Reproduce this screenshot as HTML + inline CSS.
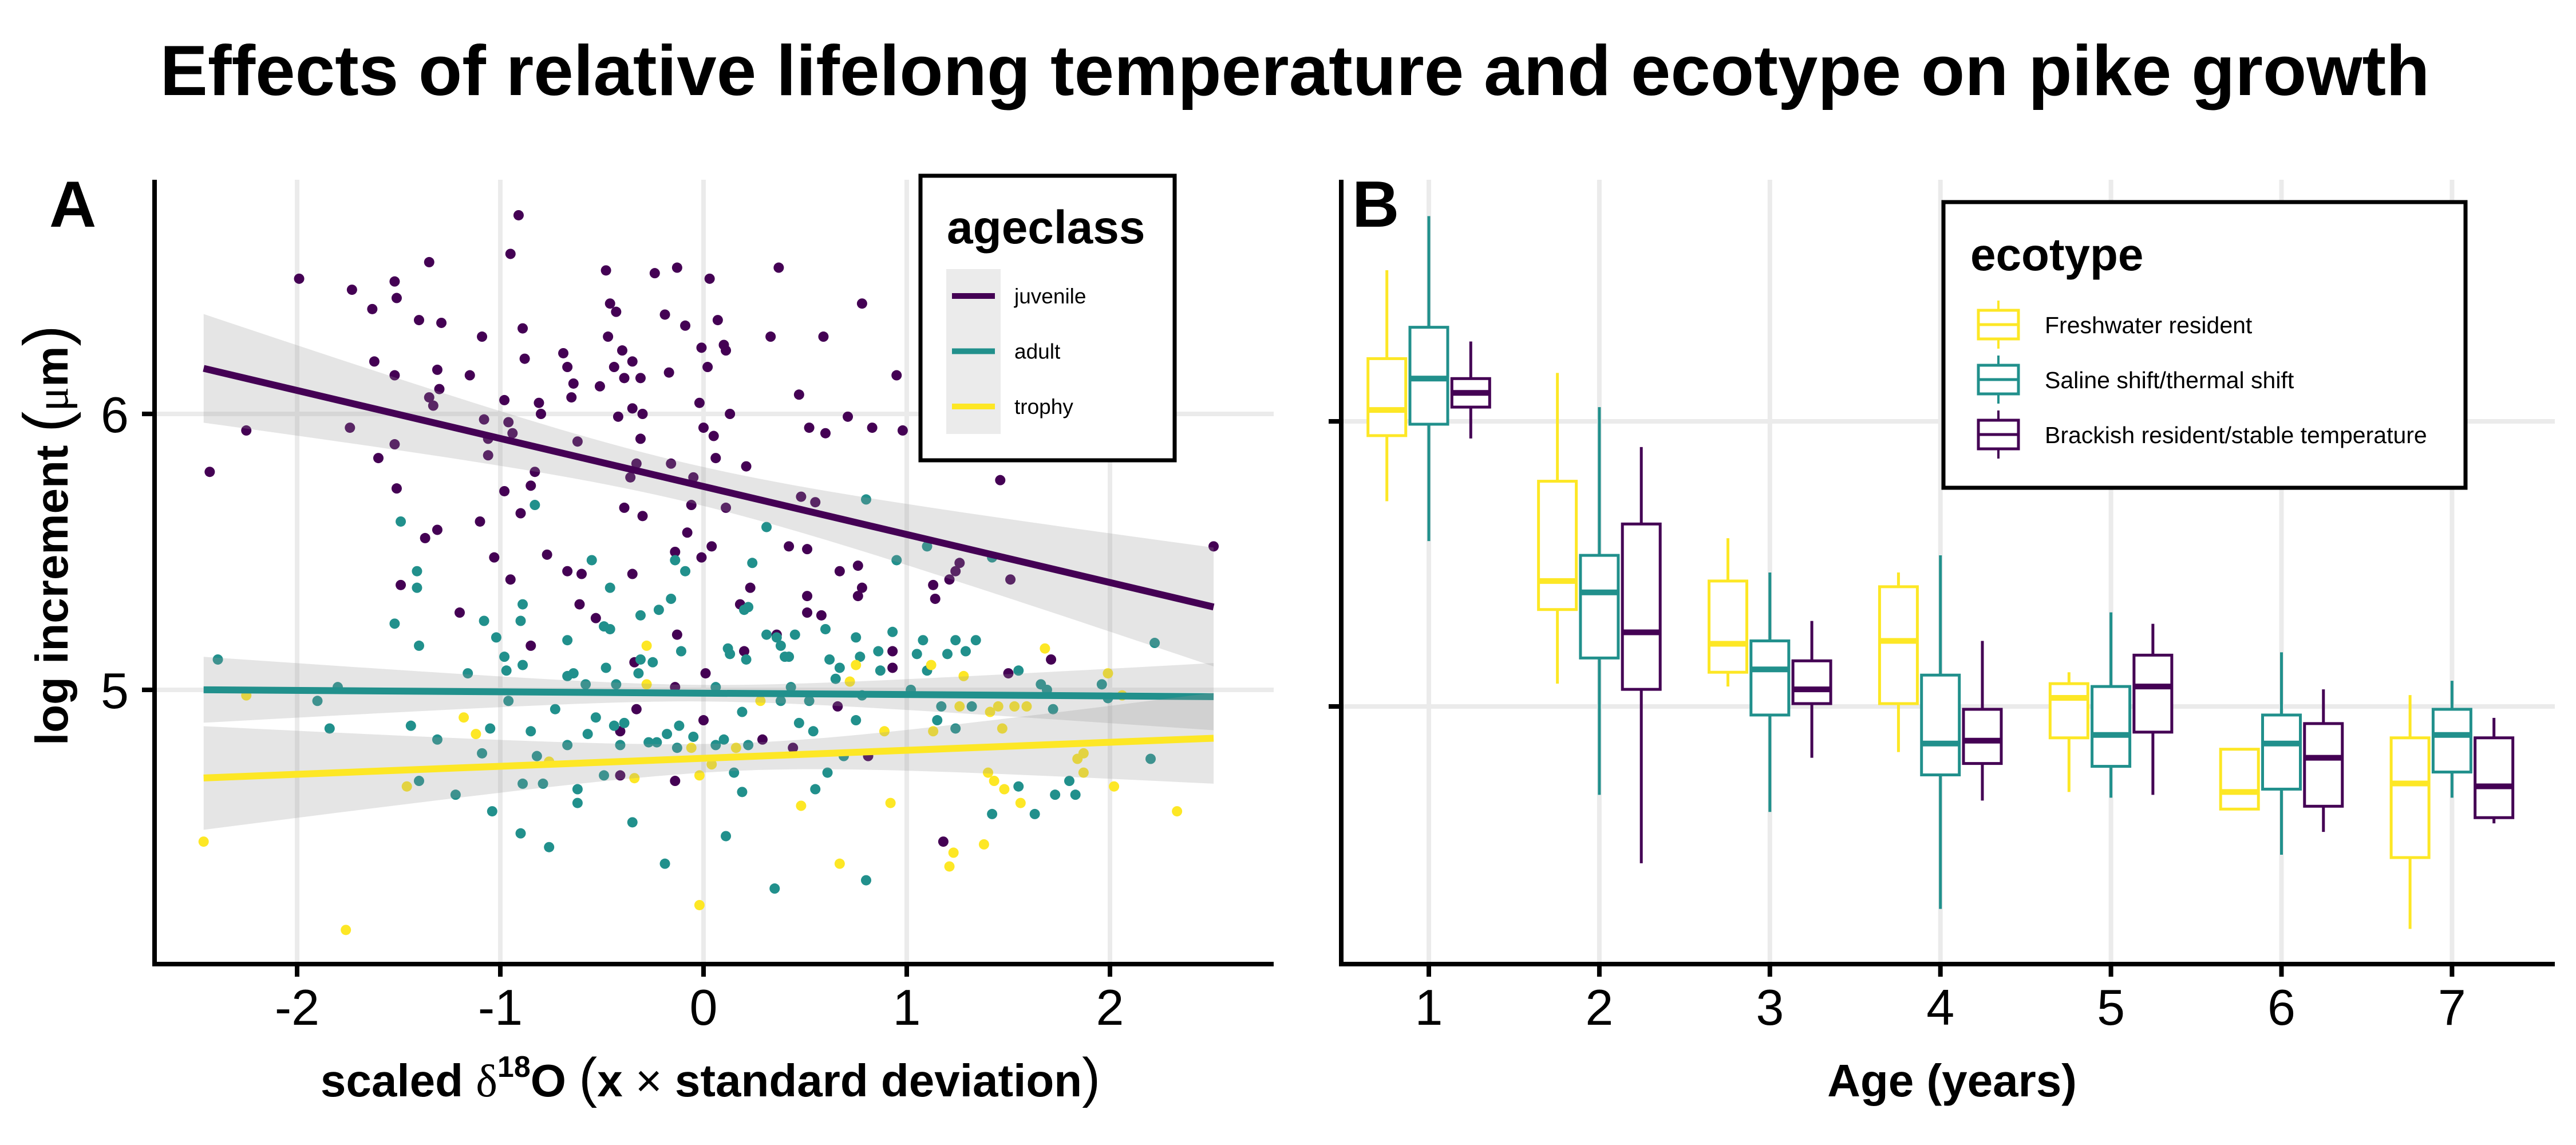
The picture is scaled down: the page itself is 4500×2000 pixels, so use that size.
<!DOCTYPE html>
<html><head><meta charset="utf-8"><style>
html,body{margin:0;padding:0;background:#fff}
svg{display:block;font-family:"Liberation Sans",Arial,sans-serif}
</style></head><body>
<svg id="fig" xmlns="http://www.w3.org/2000/svg" width="4500" height="2000" viewBox="0 0 4500 2000">
<rect width="4500" height="2000" fill="#fff"/>
<text x="2262" y="166" font-size="124" font-weight="bold" text-anchor="middle" textLength="3965" lengthAdjust="spacingAndGlyphs">Effects of relative lifelong temperature and ecotype on pike growth</text>
<g id="pa"></g>
<g id="pb"></g>
</svg>
<script>
// ---------- Panel A data ----------
const juvX=[-1.99,-1.73,-1.63,-1.52,-1.51,-1.35,-1.40,-1.29,-1.09,-1.62,-1.52,-1.31,-1.30,-1.15,-2.25,-2.43,-0.91,-0.95,-0.89,-0.88,-0.48,-0.24,-0.13,0.03,0.37,-0.46,-0.43,-0.19,-0.09,0.07,-0.47,-0.40,-0.35,-0.44,-0.39,-0.31,-0.69,-0.67,-0.64,-0.65,-0.51,-0.01,0.10,0.11,0.02,-0.17,0.33,0.59,0.78,0.95,0.47,0.71,0.83,0.98,0.52,0.60,-0.02,0.13,-0.35,-0.30,-0.42,-0.81,-0.80,-0.98,-0.31,0.00,0.05,0.06,0.21,1.46,2.51,-1.60,-1.51,-0.83,-0.85,-0.98,-0.90,-1.10,-1.37,-1.31,-0.39,-0.30,-0.06,-0.08,0.04,-0.14,-0.01,0.42,0.51,-1.03,-0.77,-0.67,-0.60,-0.35,-0.95,-1.49,-1.20,-0.61,-0.53,-0.13,-0.85,-0.34,0.18,0.23,0.51,0.51,0.58,0.67,0.76,0.78,0.76,1.13,1.14,0.93,0.93,1.71,1.50,0.01,0.00,-0.33,-0.41,0.66,1.18,0.20,0.36,-1.35,-1.33,-1.74,-1.52,-1.08,-0.96,-0.94,-1.06,-1.06,-0.62,-0.33,-0.36,-0.16,-0.05,0.11,0.48,0.55,1.24,1.21,1.26,1.51,-0.14,0.29,0.44,0.81,-0.41,-0.14];
const juvY=[6.49,6.45,6.38,6.48,6.42,6.55,6.34,6.33,6.28,6.19,6.14,6.16,6.09,6.14,5.94,5.79,6.72,6.58,6.31,6.20,6.52,6.51,6.53,6.49,6.53,6.40,6.37,6.36,6.32,6.34,6.28,6.23,6.19,6.17,6.13,6.13,6.22,6.17,6.11,6.06,6.10,6.24,6.25,6.23,6.17,6.15,6.28,6.28,6.40,6.14,6.07,5.99,5.95,5.94,5.95,5.93,6.04,6.00,6.02,6.00,5.99,6.04,6.00,6.05,5.91,5.95,5.92,5.84,5.81,5.76,5.52,5.84,5.73,5.79,5.74,5.72,5.64,5.61,5.55,5.58,5.66,5.63,5.67,5.57,5.52,5.50,5.48,5.52,5.51,5.48,5.49,5.43,5.42,5.42,5.40,5.38,5.28,5.31,5.26,5.20,5.16,5.10,5.31,5.37,5.34,5.28,5.27,5.43,5.45,5.37,5.34,5.38,5.33,5.14,5.08,5.11,5.06,5.06,4.89,4.93,4.85,4.94,4.45,5.14,5.20,6.06,6.03,5.95,5.89,5.98,5.97,5.93,5.91,5.85,5.90,5.82,5.77,5.82,5.77,5.66,5.70,5.68,5.43,5.40,5.46,5.40,5.01,4.82,4.79,4.76,4.69,4.67];
const adX=[-2.39,-1.90,-1.80,-1.84,-1.49,-1.41,-1.41,-1.52,-1.40,-1.44,-1.31,-1.40,-1.22,-1.16,-1.08,-1.02,-0.98,-0.97,-1.09,-1.05,-1.04,-0.96,-0.89,-0.90,-0.89,-0.83,-0.90,-0.76,-0.89,-0.79,-0.82,-0.85,-0.73,-0.67,-0.67,-0.64,-0.58,-0.55,-0.46,-0.49,-0.46,-0.48,-0.53,-0.57,-0.67,-0.62,-0.62,-0.49,-0.44,-0.39,-0.41,-0.43,-0.31,-0.31,-0.32,-0.25,-0.22,-0.16,-0.14,-0.09,-0.11,-0.35,-0.19,-0.27,-0.23,-0.18,-0.12,-0.13,-0.05,0.06,0.10,0.15,0.06,0.19,0.11,0.24,0.22,0.20,0.12,0.13,0.21,0.19,0.22,0.31,0.31,0.36,0.38,0.45,0.40,0.42,0.43,0.38,0.47,0.52,0.54,0.35,0.55,0.61,0.60,0.62,0.65,0.67,0.75,0.77,0.86,0.87,0.93,0.75,0.78,0.69,0.80,0.80,0.95,1.02,1.08,1.05,1.10,1.10,1.15,1.17,1.24,1.20,1.24,1.29,1.34,1.32,1.42,1.55,1.55,1.42,1.63,1.66,1.69,1.72,1.73,1.80,1.83,1.96,1.99,2.20,2.22];
const adY=[5.11,4.96,5.01,4.86,5.61,5.43,5.37,5.24,5.16,4.87,4.82,4.67,4.62,5.06,5.25,5.19,5.12,5.07,4.77,4.86,4.56,4.96,5.09,5.25,5.31,5.67,4.48,4.43,4.66,4.66,4.76,4.85,4.93,5.18,5.05,5.06,5.02,5.47,5.37,5.23,5.22,5.08,4.90,4.84,4.80,4.64,4.59,4.69,4.87,4.88,4.80,5.02,5.27,5.11,5.06,5.10,5.29,5.33,5.47,5.43,5.14,4.52,4.37,4.81,4.81,4.84,4.87,4.79,4.83,4.80,4.82,4.70,5.01,4.63,4.47,5.46,5.30,5.29,5.15,5.13,5.11,4.92,4.80,5.59,5.20,5.19,5.16,5.20,5.12,5.12,5.01,4.96,4.88,4.96,4.85,4.28,4.64,4.70,5.22,5.11,5.04,5.08,5.19,5.12,5.14,5.07,5.21,4.89,4.98,4.76,4.31,5.69,5.47,5.00,5.18,5.13,5.07,5.52,4.89,4.94,4.86,5.13,5.18,5.14,5.18,4.94,5.48,5.07,4.65,4.55,4.55,5.02,5.00,4.93,4.62,4.67,4.62,5.02,4.97,4.75,5.17];
const trX=[-2.46,-2.25,-1.76,-1.46,-1.18,-1.12,-0.76,-0.28,-0.28,-0.34,-0.06,0.04,-0.02,-0.02,0.16,0.28,0.48,0.67,0.75,0.72,0.89,0.92,1.12,1.13,1.28,1.26,1.41,1.45,1.53,1.59,1.47,1.40,1.43,1.48,1.56,1.38,1.23,1.21,1.68,1.84,1.87,1.87,2.02,1.99,2.06,2.33];
const trY=[4.45,4.98,4.13,4.65,4.90,4.84,4.74,5.16,5.02,4.68,4.79,4.73,4.69,4.22,4.79,4.96,4.58,4.37,5.09,5.03,4.85,4.59,5.09,4.85,5.05,4.94,4.92,4.94,4.94,4.94,4.86,4.70,4.67,4.64,4.59,4.44,4.41,4.36,5.15,4.75,4.77,4.70,4.65,5.06,4.98,4.56];
// fitted lines: [intercept, slope, minSE, seSlope, xCentre]
const fitJuv=[5.737,-0.174,0.07,0.078,-0.1];
const fitAd=[4.988,-0.005,0.03,0.047,0.0];
const fitTr=[4.752,0.029,0.05,0.068,0.2];
const groupNames=["juvenile","adult","trophy"];
const xTicksA=[-2,-1,0,1,2];
const yTicksA=[5,6];

// ---------- Panel B data ----------
const ages=[1,2,3,4,5,6,7];
const ecotypes=["Freshwater resident","Saline shift/thermal shift","Brackish resident/stable temperature"];
const fwLo=[5.72,5.08,5.07,4.84,4.70,4.64,4.22];
const fwQ1=[5.95,5.34,5.12,5.01,4.89,4.64,4.47];
const fwMed=[6.04,5.44,5.22,5.23,5.03,4.70,4.73];
const fwQ3=[6.22,5.79,5.44,5.42,5.08,4.85,4.89];
const fwHi=[6.53,6.17,5.59,5.47,5.12,4.85,5.04];
const ssLo=[5.58,4.69,4.63,4.29,4.68,4.48,4.68];
const ssQ1=[5.99,5.17,4.97,4.76,4.79,4.71,4.77];
const ssMed=[6.15,5.40,5.13,4.87,4.90,4.87,4.90];
const ssQ3=[6.33,5.53,5.23,5.11,5.07,4.97,4.99];
const ssHi=[6.72,6.05,5.47,5.53,5.33,5.19,5.09];
const brLo=[5.94,4.45,4.82,4.67,4.69,4.56,4.59];
const brQ1=[6.05,5.06,5.01,4.80,4.91,4.65,4.61];
const brMed=[6.10,5.26,5.06,4.88,5.07,4.82,4.72];
const brQ3=[6.15,5.64,5.16,4.99,5.18,4.94,4.89];
const brHi=[6.28,5.91,5.30,5.23,5.29,5.06,4.96];
const yTicksB=[5,6];

const NS="http://www.w3.org/2000/svg";
const COL=["#440154","#21908C","#FDE725"];
function mk(parent,tag,attrs,txt){const e=document.createElementNS(NS,tag);for(const k in attrs)e.setAttribute(k,attrs[k]);if(txt!==undefined)e.textContent=txt;parent.appendChild(e);return e;}

// ===== Panel A =====
const pa=document.getElementById('pa');
const AL=270,AR=2215,AT=314,AB=1684;
const ax=v=>1229+v*355;
const ay=v=>1205-(v-5)*482;
xTicksA.forEach(t=>{const g=mk(pa,'line',{x1:ax(t),x2:ax(t),y1:AT,y2:AB,stroke:'#ebebeb','stroke-width':8});

});
yTicksA.forEach(t=>{const g=mk(pa,'line',{x1:AL,x2:2225,y1:ay(t),y2:ay(t),stroke:'#ebebeb','stroke-width':8});

});
const series=[[juvX,juvY],[adX,adY],[trX,trY]];
series.forEach((s,gi)=>{
  const g=mk(pa,'g',{});
  
  
  s[0].forEach((x,i)=>{const c=mk(g,'circle',{cx:ax(x),cy:ay(s[1][i]),r:9,fill:COL[gi]});
  
  });
});
[fitJuv,fitAd,fitTr].forEach((f,gi)=>{
  const xs=[];for(let i=0;i<=60;i++)xs.push(-2.46+i*(4.97/60));
  const up=[],lo=[];
  xs.forEach(x=>{const m=f[0]+f[1]*x;const se=Math.sqrt(f[2]*f[2]+f[3]*f[3]*(x-f[4])*(x-f[4]));up.push(ax(x)+','+ay(m+se));lo.push(ax(x)+','+ay(m-se));});
  const rb=mk(pa,'polygon',{points:up.concat(lo.reverse()).join(' '),fill:'#999','fill-opacity':0.25});
  
  
  const ln=mk(pa,'line',{x1:ax(-2.46),y1:ay(f[0]+f[1]*-2.46),x2:ax(2.51),y2:ay(f[0]+f[1]*2.51),stroke:COL[gi],'stroke-width':12});
  
  
});
// axes
let e=mk(pa,'path',{d:`M${AL},${AT} V${AB} H2225`,fill:'none',stroke:'#000','stroke-width':8});


xTicksA.forEach(t=>{
  let tk=mk(pa,'line',{x1:ax(t),x2:ax(t),y1:AB,y2:AB+22,stroke:'#000','stroke-width':8});
  
  
  let tl=mk(pa,'text',{x:ax(t),y:1790,'font-size':88,'text-anchor':'middle'},t<0?'-'+Math.abs(t):String(t));
  
  
});
yTicksA.forEach(t=>{
  let tk=mk(pa,'line',{x1:AL-22,x2:AL,y1:ay(t),y2:ay(t),stroke:'#000','stroke-width':8});
  
  
  let tl=mk(pa,'text',{x:AL-45,y:ay(t)+32,'font-size':88,'text-anchor':'end'},String(t));
  
  
});
e=mk(pa,'text',{x:86,y:396,'font-size':114,'font-weight':'bold'},'A');


e=mk(pa,'text',{x:1241,y:1915,'font-size':80,'font-weight':'bold','text-anchor':'middle'});


e.innerHTML='scaled <tspan font-weight="normal" font-family="Liberation Serif, serif">δ</tspan><tspan font-size="52" dy="-34">18</tspan><tspan dy="34">O </tspan><tspan font-weight="normal" font-size="96">(</tspan>x <tspan font-weight="normal">×</tspan> standard deviation<tspan font-weight="normal" font-size="96">)</tspan>';
e=mk(pa,'text',{x:0,y:0,'font-size':80,'font-weight':'bold','text-anchor':'middle',transform:'translate(118,935) rotate(-90)'});


e.innerHTML='log increment <tspan font-weight="normal" font-size="110">(</tspan><tspan font-family="Liberation Serif, serif" font-weight="normal">μ</tspan>m<tspan font-weight="normal" font-size="110">)</tspan>';
// legend A
const lgA=mk(pa,'g',{});


mk(lgA,'rect',{x:1608,y:307,width:444,height:497,fill:'#fff',stroke:'#000','stroke-width':7});
e=mk(lgA,'text',{x:1654,y:425,'font-size':82,'font-weight':'bold'},'ageclass');


mk(lgA,'rect',{x:1653,y:470,width:95,height:288,fill:'#ebebeb'});
groupNames.forEach((n,i)=>{
  const y=517+i*96.5;
  const k=mk(lgA,'line',{x1:1663,x2:1738,y1:y,y2:y,stroke:COL[i],'stroke-width':10});
  
  
  const t=mk(lgA,'text',{x:1772,y:y+13,'font-size':37},n);
  
  
});

// ===== Panel B =====
const pb=document.getElementById('pb');
const BL=2343,BR=4463,BT=314,BB=1684;
const bx=a=>2496+(a-1)*297.9;
const by=v=>1234-(v-5)*498;
ages.forEach(a=>{const g=mk(pb,'line',{x1:bx(a),x2:bx(a),y1:BT,y2:BB,stroke:'#ebebeb','stroke-width':8});

});
yTicksB.forEach(t=>{const g=mk(pb,'line',{x1:BL,x2:BR,y1:by(t),y2:by(t),stroke:'#ebebeb','stroke-width':8});

});
const BCOL=["#FDE725","#21908C","#440154"];
const stats=[[fwLo,fwQ1,fwMed,fwQ3,fwHi],[ssLo,ssQ1,ssMed,ssQ3,ssHi],[brLo,brQ1,brMed,brQ3,brHi]];
const keys=["freshwater","saline-shift","brackish"];
ages.forEach((a,ai)=>{
  stats.forEach((s,ei)=>{
    const cx=bx(a)+(ei-1)*0.246*297.9, hw=33;
    const g=mk(pb,'g',{});
    
    
    const c=BCOL[ei];
    mk(g,'line',{x1:cx,x2:cx,y1:by(s[4][ai]),y2:by(s[3][ai]),stroke:c,'stroke-width':5});
    mk(g,'line',{x1:cx,x2:cx,y1:by(s[1][ai]),y2:by(s[0][ai]),stroke:c,'stroke-width':5});
    mk(g,'rect',{x:cx-hw,y:by(s[3][ai]),width:2*hw,height:by(s[1][ai])-by(s[3][ai]),fill:'#fff',stroke:c,'stroke-width':5});
    mk(g,'line',{x1:cx-hw,x2:cx+hw,y1:by(s[2][ai]),y2:by(s[2][ai]),stroke:c,'stroke-width':10});
  });
});
e=mk(pb,'path',{d:`M${BL},${BT} V${BB} H${BR}`,fill:'none',stroke:'#000','stroke-width':8});


ages.forEach(a=>{
  let tk=mk(pb,'line',{x1:bx(a),x2:bx(a),y1:BB,y2:BB+22,stroke:'#000','stroke-width':8});
  
  
  let tl=mk(pb,'text',{x:bx(a),y:1790,'font-size':88,'text-anchor':'middle'},String(a));
  
  
});
yTicksB.forEach(t=>{
  let tk=mk(pb,'line',{x1:BL-22,x2:BL,y1:by(t),y2:by(t),stroke:'#000','stroke-width':8});
  
  
});
e=mk(pb,'text',{x:2362,y:396,'font-size':114,'font-weight':'bold'},'B');


e=mk(pb,'text',{x:3410,y:1915,'font-size':80,'font-weight':'bold','text-anchor':'middle'},'Age (years)');


// legend B
const lgB=mk(pb,'g',{});


mk(lgB,'rect',{x:3395,y:353,width:912,height:499,fill:'#fff',stroke:'#000','stroke-width':7});
e=mk(lgB,'text',{x:3442,y:472,'font-size':80,'font-weight':'bold'},'ecotype');


ecotypes.forEach((n,i)=>{
  const y=567+i*96, c=BCOL[i];
  const k=mk(lgB,'g',{});
  
  
  mk(k,'line',{x1:3491,x2:3491,y1:y-42,y2:y+42,stroke:c,'stroke-width':4});
  mk(k,'rect',{x:3456,y:y-25,width:70,height:50,fill:'#fff',stroke:c,'stroke-width':5});
  mk(k,'line',{x1:3456,x2:3526,y1:y,y2:y,stroke:c,'stroke-width':5});
  const t=mk(lgB,'text',{x:3572,y:y+15,'font-size':41},n);
  
  
});
</script>
</body></html>
